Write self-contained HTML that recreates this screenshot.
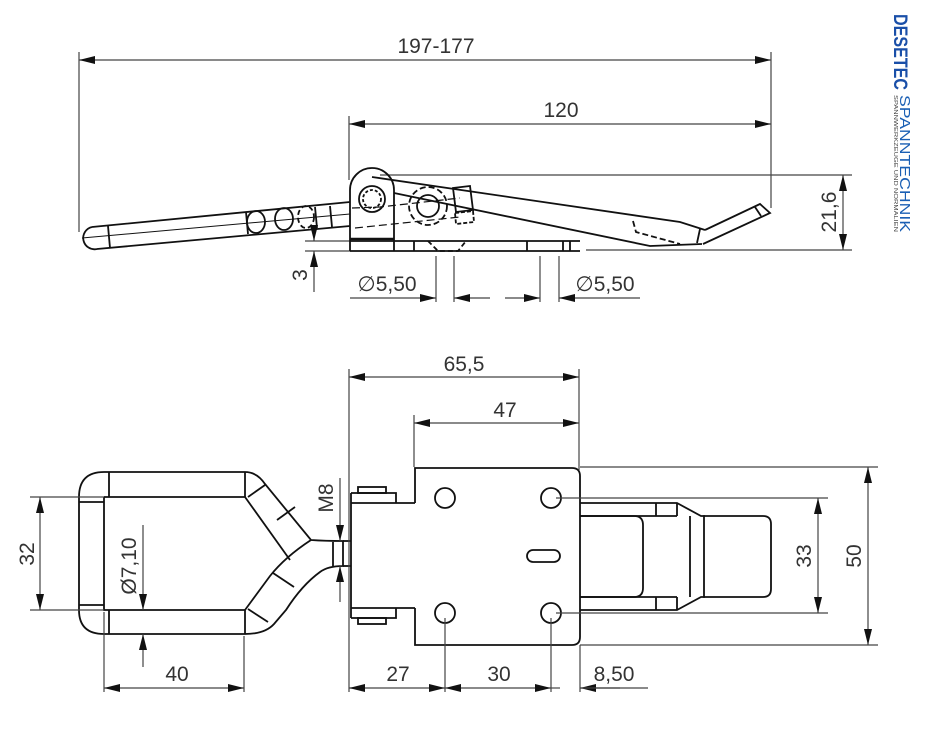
<!DOCTYPE html>
<html><head><meta charset="utf-8"><style>
html,body{margin:0;padding:0;background:#fff}
svg{display:block}
text{font-family:"Liberation Sans",sans-serif;fill:#333;font-size:21px}
</style></head><body>
<svg width="928" height="735" viewBox="0 0 928 735" xmlns="http://www.w3.org/2000/svg">
<defs>
<marker id="a" viewBox="0 0 16 8" refX="16" refY="4" markerWidth="16" markerHeight="8" markerUnits="userSpaceOnUse" orient="auto-start-reverse">
<path d="M0,0 L16,4 L0,8 Z" fill="#111"/></marker>
</defs>
<g stroke="#444" stroke-width="1.2" fill="none">
<line x1="79" y1="60" x2="771" y2="60" marker-start="url(#a)" marker-end="url(#a)"/>
<line x1="79" y1="52" x2="79" y2="232"/>
<line x1="771" y1="52" x2="771" y2="208"/>
<line x1="349" y1="124" x2="771" y2="124" marker-start="url(#a)" marker-end="url(#a)"/>
<line x1="349" y1="116" x2="349" y2="180"/>
<line x1="843" y1="175" x2="843" y2="250" marker-start="url(#a)" marker-end="url(#a)"/>
<line x1="380" y1="175" x2="852" y2="175"/>
<line x1="586" y1="250" x2="852" y2="250"/>
<line x1="305" y1="241" x2="350" y2="241"/>
<line x1="305" y1="251" x2="350" y2="251"/>
<line x1="314" y1="225" x2="314" y2="241" marker-end="url(#a)"/>
<line x1="314" y1="292" x2="314" y2="251" marker-end="url(#a)"/>
<line x1="350" y1="298" x2="436" y2="298" marker-end="url(#a)"/>
<line x1="490" y1="298" x2="454" y2="298" marker-end="url(#a)"/>
<line x1="436" y1="256" x2="436" y2="302"/><line x1="454" y1="256" x2="454" y2="302"/>
<line x1="505" y1="298" x2="540" y2="298" marker-end="url(#a)"/>
<line x1="640" y1="298" x2="559" y2="298" marker-end="url(#a)"/>
<line x1="540" y1="256" x2="540" y2="302"/><line x1="559" y1="256" x2="559" y2="302"/>
</g>
<g stroke="#111" stroke-width="1.8" fill="none">
<path d="M92,227 L350,202 M97,249 L350,226"/>
<path d="M92,227 A11,11 0 0 0 97,249"/>
<line x1="82" y1="238" x2="350" y2="214" stroke-width="1"/>
<line x1="108" y1="226" x2="110" y2="248"/>
<ellipse cx="256" cy="222" rx="9" ry="11"/><ellipse cx="284" cy="219" rx="9" ry="11"/>
<ellipse cx="306" cy="217" rx="8" ry="11" stroke-dasharray="5,3"/>
<line x1="246" y1="212" x2="248" y2="234"/><line x1="315" y1="207" x2="317" y2="228"/><line x1="330" y1="206" x2="332" y2="227"/>
<path d="M350,251 L350,190 A22,22 0 0 1 394,190 L394,251"/>
<line x1="350" y1="241" x2="580" y2="241"/>
<line x1="350" y1="251" x2="580" y2="251"/>
<line x1="350" y1="239" x2="394" y2="239" stroke-width="2.5"/>
<circle cx="372" cy="199" r="13"/><circle cx="372" cy="199" r="9" stroke-dasharray="3,2"/>
<circle cx="428" cy="206" r="11"/><circle cx="428" cy="206" r="19" stroke-dasharray="6,3"/>
<line x1="414" y1="241" x2="414" y2="251"/><line x1="527" y1="241" x2="527" y2="251"/><line x1="563" y1="241" x2="563" y2="251"/><line x1="570" y1="241" x2="570" y2="251"/>
<path d="M428,241 L438,251 L458,251 L466,241" stroke-dasharray="5,3"/>
<path d="M372,177 L680,222 L705,230 M394,193 L650,246 L702,244"/>
<path d="M352,208 L380,207 L460,198" stroke-dasharray="8,4" stroke-width="1.2"/>
<path d="M355,228 L460,217" stroke-dasharray="8,4" stroke-width="1.2"/>
<path d="M453,188 L470,186 L473,210 L456,212 Z"/><path d="M455,213 L473,211 L474,222 L456,224 Z" stroke-dasharray="4,2"/>
<path d="M633,221 L636,232 L680,244" stroke-dasharray="6,3"/>
<path d="M705,230 L760,204 L770,213 L703,244 M700,229 L697,243 M755,207 L761,216"/>
<path d="M104,472 L245,472 Q257,472 265,484 L311,540 Q325,541 343,541 L343,566 Q328,566 320,572 Q302,585 286,610 L274,624 Q265,634 245,634 L104,634 Q79,634 79,610 L79,497 Q79,472 104,472 Z"/>
<path d="M104,497 L245,497 L290,560 M245,610 L270,576 Q285,557 311,540"/>
<path d="M104,497 L104,610 L245,610"/>
<line x1="79" y1="502" x2="104" y2="502"/><line x1="79" y1="605" x2="104" y2="605"/>
<line x1="109" y1="472" x2="109" y2="497"/><line x1="109" y1="610" x2="109" y2="634"/>
<line x1="245" y1="472" x2="245" y2="497"/><line x1="245" y1="610" x2="245" y2="634"/>
<line x1="248" y1="497" x2="265" y2="485"/><line x1="277" y1="520" x2="295" y2="507"/>
<line x1="273" y1="573" x2="294" y2="587"/><line x1="248" y1="609" x2="268" y2="622"/>
<line x1="333" y1="542" x2="333" y2="566"/>
<path d="M351,493 L351,618 M351,493 L396,493 L396,503 L415,503 M351,503 L396,503 M351,618 L396,618 L396,608 L415,608 M351,608 L396,608"/>
<rect x="358" y="487" width="28" height="6"/><rect x="358" y="618" width="28" height="6"/>
<line x1="343" y1="541" x2="351" y2="541"/><line x1="343" y1="566" x2="351" y2="566"/>
<path d="M415,503 L415,468 L572,468 Q580,468 580,476 L580,637 Q580,645 572,645 L415,645 L415,608"/>
<circle cx="445" cy="498" r="10"/><circle cx="551" cy="498" r="10"/>
<circle cx="445" cy="613" r="10"/><circle cx="551" cy="613" r="10"/>
<rect x="527" y="550" width="33" height="12" rx="6"/>
<path d="M580,503 L677,503 L701,516 L705,516 M580,516 L677,516 M580,597 L677,597 M580,610 L677,610 L701,597 L705,597"/>
<line x1="656" y1="503" x2="656" y2="516"/><line x1="677" y1="503" x2="677" y2="516"/>
<line x1="656" y1="597" x2="656" y2="610"/><line x1="677" y1="597" x2="677" y2="610"/>
<path d="M580,516 L634,516 Q643,516 643,525 L643,588 Q643,597 634,597 L580,597"/>
<line x1="690" y1="516" x2="690" y2="597"/>
<path d="M704,516 L763,516 Q771,516 771,524 L771,589 Q771,597 763,597 L704,597 Z"/>
</g>
<g stroke="#444" stroke-width="1.2" fill="none">
<line x1="349" y1="377" x2="579" y2="377" marker-start="url(#a)" marker-end="url(#a)"/>
<line x1="349" y1="369" x2="349" y2="692"/><line x1="579" y1="369" x2="579" y2="470"/>
<line x1="414" y1="423" x2="579" y2="423" marker-start="url(#a)" marker-end="url(#a)"/>
<line x1="414" y1="415" x2="414" y2="467"/>
<line x1="818" y1="498" x2="818" y2="613" marker-start="url(#a)" marker-end="url(#a)"/>
<line x1="556" y1="498" x2="828" y2="498"/><line x1="556" y1="613" x2="828" y2="613"/>
<line x1="868" y1="467" x2="868" y2="645" marker-start="url(#a)" marker-end="url(#a)"/>
<line x1="580" y1="467" x2="878" y2="467"/><line x1="580" y1="645" x2="878" y2="645"/>
<line x1="349" y1="688" x2="445" y2="688" marker-start="url(#a)" marker-end="url(#a)"/>
<line x1="445" y1="688" x2="551" y2="688" marker-start="url(#a)" marker-end="url(#a)"/>
<line x1="445" y1="618" x2="445" y2="692"/><line x1="551" y1="618" x2="551" y2="692"/>
<line x1="580" y1="645" x2="580" y2="692"/>
<line x1="620" y1="688" x2="580" y2="688" marker-end="url(#a)"/>
<line x1="551" y1="688" x2="560" y2="688"/>
<line x1="580" y1="688" x2="648" y2="688"/>
<line x1="104" y1="688" x2="244" y2="688" marker-start="url(#a)" marker-end="url(#a)"/>
<line x1="104" y1="612" x2="104" y2="692"/><line x1="244" y1="636" x2="244" y2="692"/>
<line x1="40" y1="497" x2="40" y2="610" marker-start="url(#a)" marker-end="url(#a)"/>
<line x1="30" y1="497" x2="104" y2="497"/><line x1="30" y1="610" x2="104" y2="610"/>
<line x1="143" y1="525" x2="143" y2="610" marker-end="url(#a)"/>
<line x1="143" y1="667" x2="143" y2="634" marker-end="url(#a)"/>
<line x1="340" y1="478" x2="340" y2="541" marker-end="url(#a)"/>
<line x1="340" y1="602" x2="340" y2="566" marker-end="url(#a)"/>
</g>
<text x="436" y="53" text-anchor="middle">197-177</text>
<text x="561" y="117" text-anchor="middle">120</text>
<text transform="translate(836,212) rotate(-90)" text-anchor="middle">21,6</text>
<text transform="translate(307,275) rotate(-90)" text-anchor="middle">3</text>
<text x="387" y="291" text-anchor="middle">∅5,50</text>
<text x="605" y="291" text-anchor="middle">∅5,50</text>
<text x="464" y="371" text-anchor="middle">65,5</text>
<text x="505" y="417" text-anchor="middle">47</text>
<text transform="translate(811,556) rotate(-90)" text-anchor="middle">33</text>
<text transform="translate(861,556) rotate(-90)" text-anchor="middle">50</text>
<text transform="translate(34,554) rotate(-90)" text-anchor="middle">32</text>
<text transform="translate(136,566) rotate(-90)" text-anchor="middle">Ø7,10</text>
<text transform="translate(333,498) rotate(-90)" text-anchor="middle">M8</text>
<text x="398" y="681" text-anchor="middle">27</text>
<text x="499" y="681" text-anchor="middle">30</text>
<text x="614" y="681" text-anchor="middle">8,50</text>
<text x="177" y="681" text-anchor="middle">40</text>
<g transform="translate(893,14) rotate(90)">
<text x="0" y="-1" style="font-size:19px;font-weight:bold;fill:#1a4fa8" textLength="76" lengthAdjust="spacingAndGlyphs">DESETEC</text>
<text x="81" y="-7" style="font-size:15px;fill:#1a5fb4" textLength="137" lengthAdjust="spacingAndGlyphs">SPANNTECHNIK</text>
<text x="81" y="-1" style="font-size:5.5px;fill:#444" textLength="137" lengthAdjust="spacingAndGlyphs">SPANNWERKZEUGE UND NORMALIEN</text>
</g>
</svg>
</body></html>
